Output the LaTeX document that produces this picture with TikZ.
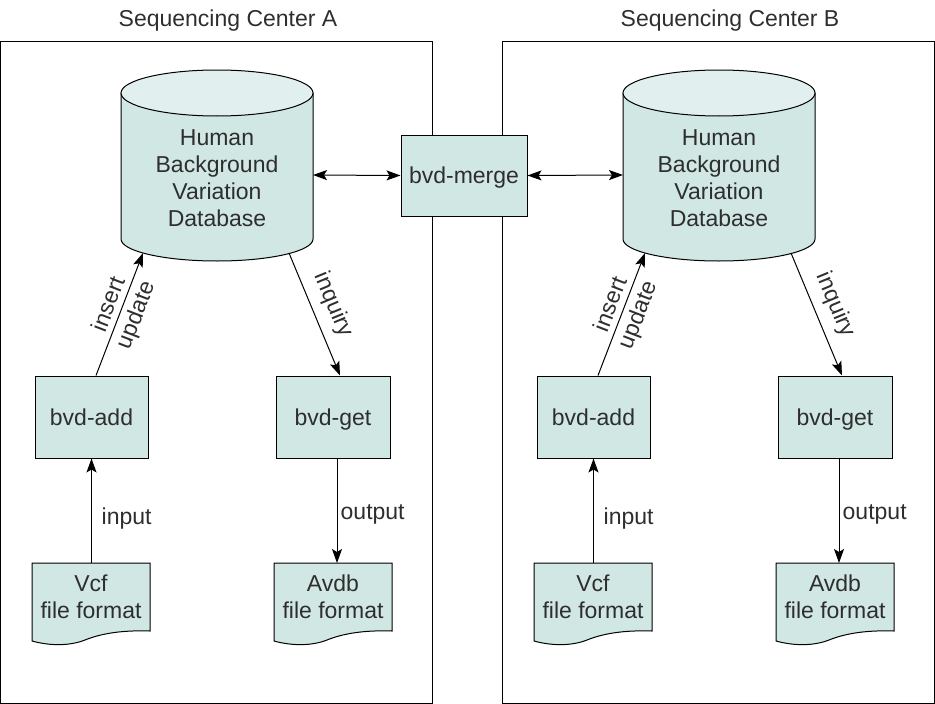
\documentclass[tikz,border=0pt]{standalone}
\usepackage{fontspec}
\setmainfont{Liberation Sans}
\usetikzlibrary{arrows.meta,calc}
\definecolor{boxfill}{HTML}{D0E7E4}
\definecolor{topfill}{HTML}{E1F0EF}
\definecolor{txt}{HTML}{2E2E2E}
\tikzset{
  every node/.style={text=txt, font=\fontsize{23}{27}\selectfont},
  frame/.style={draw=black, line width=1pt},
  shapeline/.style={draw=black, line width=1pt, fill=boxfill},
  procbox/.style={draw=black, line width=1pt, fill=boxfill, inner sep=0pt, text height=18pt, text depth=2pt},
  conn/.style={draw=black, line width=1pt},
  >={Stealth[length=14pt,width=10pt,inset=3pt]},
  lbl/.style={inner sep=0pt},
}
\newcommand\seqcenter[2]{%
\begin{scope}[xshift=#2pt]
  \draw[frame] (0.5,41) rectangle (432,703);
  \node[lbl, anchor=base] (title#1) at (228,26) {Sequencing Center #1};
  % database cylinder
  \path[shapeline] (121,93) -- (121,239) arc[start angle=180, end angle=360, x radius=96pt, y radius=22pt] -- (313,93) -- cycle;
  \path[shapeline, fill=topfill] (217,93) ellipse [x radius=96pt, y radius=23pt];
  \node[lbl, align=center] (db#1) at (217,178) {Human\\Background\\Variation\\Database};
  \coordinate (dbE#1) at (313,175);
  \coordinate (dbW#1) at (121,175);
  \coordinate (dbIn#1) at (143,253);
  \coordinate (dbOut#1) at (289,253);
  % process boxes
  \node[procbox, minimum width=113pt, minimum height=82pt] (add#1) at (91.5,417) {bvd-add};
  \node[procbox, minimum width=114pt, minimum height=82pt] (get#1) at (333,417) {bvd-get};
  % documents
  \path[shapeline] (32,563) -- (150,563) -- (150,631)
     .. controls (120,630) and (100,634) .. (85,640)
     .. controls (70,646) and (50,646) .. (32,641) -- cycle;
  \path[shapeline] (274,563) -- (392,563) -- (392,631)
     .. controls (362,630) and (342,634) .. (327,640)
     .. controls (312,646) and (292,646) .. (274,641) -- cycle;
  \node[lbl, align=center] (vcf#1) at (91,597) {Vcf\\file format};
  \node[lbl, align=center] (avdb#1) at (333,597) {Avdb\\file format};
  \coordinate (vcfTop#1) at (91.5,563);
  \coordinate (avdbTop#1) at (337,563);
  % connectors
  \draw[conn,->] ([xshift=4.5pt]add#1.north) -- (dbIn#1);
  \draw[conn,->] (dbOut#1) -- ([xshift=7pt]get#1.north);
  \draw[conn,->] (vcfTop#1) -- (add#1.south);
  \draw[conn,->] ([xshift=4pt]get#1.south) -- (avdbTop#1);
  % labels
  \node[lbl, align=center, rotate=69, font=\fontsize{23}{29}\selectfont] (lins#1) at (123.5,310) {insert\\update};
  \node[lbl, rotate=-67.5] (linq#1) at (333,305) {inquiry};
  \node[lbl, anchor=base west] (linp#1) at (101.5,524) {input};
  \node[lbl, anchor=base west] (lout#1) at (340.5,519) {output};
\end{scope}}
\begin{document}
\begin{tikzpicture}[x=1pt, y=-1pt]
  \useasboundingbox (0,0) rectangle (935,704);
  \seqcenter{A}{0}
  \seqcenter{B}{502}
  \node[procbox, minimum width=126pt, minimum height=81pt] (merge) at (464,175.5) {bvd-merge};
  \draw[conn,<->] (dbEA) -- (merge.west);
  \draw[conn,<->] (merge.east) -- (dbWB);
\end{tikzpicture}
\end{document}
